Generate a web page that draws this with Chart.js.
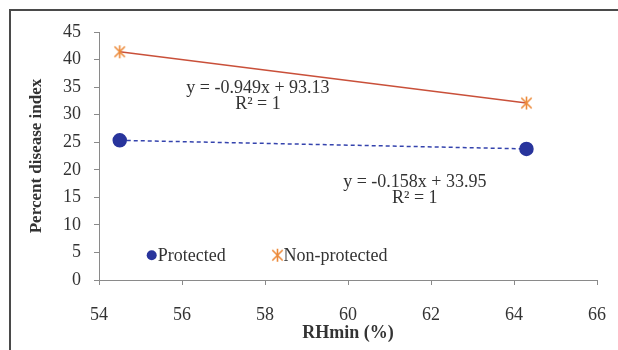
<!DOCTYPE html>
<html>
<head>
<meta charset="utf-8">
<script src="https://cdn.jsdelivr.net/npm/chart.js@4.4.0/dist/chart.umd.min.js"></script>
<style>
  html, body { margin: 0; padding: 0; background: #fff; }
  #wrap { width: 618px; height: 350px; position: relative; }
</style>
</head>
<body>
<div id="wrap"><canvas id="chart" width="618" height="350"></canvas></div>
<script>
const rhMin = [54.5, 64.3];
const protectedPDI = [25.34, 23.79];
const nonProtectedPDI = [41.41, 32.11];
const seriesNames = ['Protected', 'Non-protected'];
const xRange = [54, 66, 2];
const yRange = [0, 45, 5];
const equations = [
  ['y = -0.949x + 93.13', 'R\u00b2 = 1'],
  ['y = -0.158x + 33.95', 'R\u00b2 = 1']
];

const textColor = '#333';
const axisColor = '#8a8a8a';
const blue = '#28349c';
const orange = '#ec8a3a';
const red = '#c9503a';
const serif = '"Liberation Serif", "Times New Roman", serif';

// excel style star marker (X with a vertical bar)
function makeStar(size, color) {
  const c = document.createElement('canvas');
  c.width = size; c.height = size;
  const g = c.getContext('2d');
  const h = size / 2, r = size / 2 - 1;
  g.strokeStyle = color;
  g.lineWidth = 1.6;
  g.beginPath();
  g.moveTo(h - r * 0.8, h - r * 0.8); g.lineTo(h + r * 0.8, h + r * 0.8);
  g.moveTo(h + r * 0.8, h - r * 0.8); g.lineTo(h - r * 0.8, h + r * 0.8);
  g.moveTo(h, h - r); g.lineTo(h, h + r);
  g.stroke();
  return c;
}
const star = makeStar(15, orange);

const extras = {
  id: 'extras',
  beforeDraw(chart) {
    const ctx = chart.ctx;
    ctx.save();
    ctx.strokeStyle = '#4a4a4a';
    ctx.lineWidth = 2;
    ctx.beginPath();
    ctx.moveTo(10, 350); ctx.lineTo(10, 10); ctx.lineTo(618, 10);
    ctx.stroke();
    ctx.restore();
  },
  afterDraw(chart) {
    const ctx = chart.ctx;
    const xs = chart.scales.x, ys = chart.scales.y;
    ctx.save();
    ctx.fillStyle = textColor;
    ctx.font = '18px ' + serif;
    ctx.textAlign = 'center';
    ctx.textBaseline = 'middle';
    // trendline equations
    const eqPos = [[57.83, 34.7, 31.8], [61.61, 17.8, 14.8]];
    equations.forEach((eq, i) => {
      const px = xs.getPixelForValue(eqPos[i][0]);
      ctx.fillText(eq[0], px, ys.getPixelForValue(eqPos[i][1]));
      ctx.fillText(eq[1], px, ys.getPixelForValue(eqPos[i][2]));
    });
    // legend inside plot
    const ly = ys.getPixelForValue(4.5);
    const p1 = xs.getPixelForValue(55.27);
    ctx.fillStyle = blue;
    ctx.beginPath(); ctx.arc(p1, ly, 5, 0, Math.PI * 2); ctx.fill();
    const p2 = xs.getPixelForValue(58.3);
    ctx.drawImage(star, p2 - 7.5, ly - 7.5);
    ctx.fillStyle = textColor;
    ctx.textAlign = 'left';
    ctx.fillText(seriesNames[0], p1 + 6, ly + 1);
    ctx.fillText(seriesNames[1], p2 + 6, ly + 1);
    ctx.restore();
  }
};

const tickFont = { family: serif, size: 18 };
const titleFont = { family: serif, size: 18, weight: 'bold' };

new Chart(document.getElementById('chart'), {
  type: 'scatter',
  data: {
    datasets: [
      {
        label: seriesNames[0],
        data: rhMin.map((x, i) => ({ x: x, y: protectedPDI[i] })),
        showLine: true,
        borderColor: '#3443ad',
        borderWidth: 1.5,
        borderDash: [4, 3],
        pointStyle: 'circle',
        pointRadius: 6.5,
        pointBackgroundColor: blue,
        pointBorderColor: blue
      },
      {
        label: seriesNames[1],
        data: rhMin.map((x, i) => ({ x: x, y: nonProtectedPDI[i] })),
        showLine: true,
        borderColor: red,
        borderWidth: 1.5,
        pointStyle: star,
        pointRadius: 7
      }
    ]
  },
  options: {
    responsive: false,
    animation: false,
    layout: { padding: { left: 22, right: 21, top: 32, bottom: 0 } },
    plugins: {
      legend: { display: false },
      tooltip: { enabled: false }
    },
    scales: {
      x: {
        type: 'linear',
        min: xRange[0], max: xRange[1],
        ticks: { stepSize: xRange[2], color: textColor, font: tickFont, padding: 19 },
        grid: { drawOnChartArea: false, tickLength: 5, color: axisColor },
        border: { color: axisColor },
        title: { display: true, text: 'RHmin (%)', color: textColor, font: titleFont, padding: { top: 0, bottom: 6 } },
        afterFit(s) { s.height = 70; s.paddingLeft = 0; s.paddingRight = 0; }
      },
      y: {
        min: yRange[0], max: yRange[1],
        ticks: { stepSize: yRange[2], color: textColor, font: tickFont, padding: 13 },
        grid: { drawOnChartArea: false, tickLength: 5, color: axisColor },
        border: { color: axisColor },
        title: { display: true, text: 'Percent disease index', color: textColor, font: { family: serif, size: 17, weight: 'bold' }, padding: { top: 4, bottom: 0 } },
        afterFit(s) { s.width = 77; }
      }
    }
  },
  plugins: [extras]
});
</script>
</body>
</html>
